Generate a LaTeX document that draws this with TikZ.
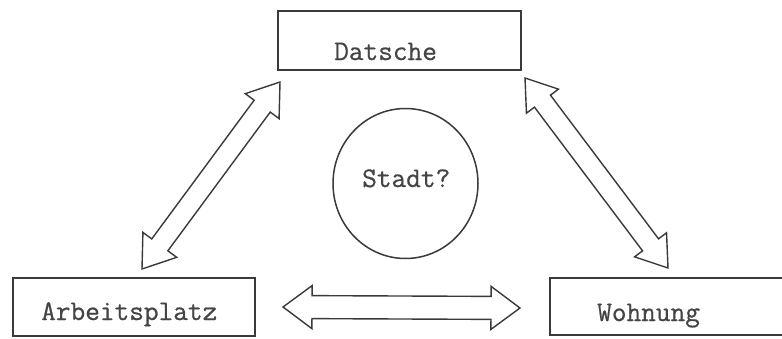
\documentclass[tikz,border=0pt]{standalone}
\usepackage{fontspec}
\usetikzlibrary{calc,shapes.geometric}
\newfontfamily\typer[FakeBold=0.6,BoldFont={Latin Modern Mono}]{Latin Modern Mono}
\definecolor{ink}{HTML}{3A3A3A}
\definecolor{typeink}{HTML}{444444}
\tikzset{
  box/.style={draw=ink, line width=1.5pt, rectangle, inner sep=0pt},
  ring/.style={draw=ink, line width=1.5pt, ellipse, inner sep=0pt},
  lbl/.style={anchor=base west, inner sep=0pt, text=typeink,
    font=\typer\fontsize{28.5}{28.5}\selectfont\bfseries},
  arr/.style={draw=ink, line width=1.4pt, line join=miter, fill=white}
}
% hollow double arrow between two named coordinates
% #1 tip A, #2 tip B, #3 head length, #4 head half width, #5 shaft half width
\newcommand{\HollowDblArrow}[5]{%
  \coordinate (#1-hb) at ($(#1)!#3!(#2)$);
  \coordinate (#2-hb) at ($(#2)!#3!(#1)$);
  \draw[arr] (#1)
    -- ($(#1-hb)!#4!90:(#2)$) -- ($(#1-hb)!#5!90:(#2)$)
    -- ($(#2-hb)!#5!-90:(#1)$) -- ($(#2-hb)!#4!-90:(#1)$)
    -- (#2)
    -- ($(#2-hb)!#4!90:(#1)$) -- ($(#2-hb)!#5!90:(#1)$)
    -- ($(#1-hb)!#5!-90:(#2)$) -- ($(#1-hb)!#4!-90:(#2)$)
    -- cycle;}
\begin{document}
\begin{tikzpicture}[x=1pt,y=-1pt]
\useasboundingbox (0,0) rectangle (782,338);
\clip (0,0) rectangle (782,338);
\fill[white] (0,0) rectangle (782,338);

% boxes
\node[box, minimum width=243pt, minimum height=59pt] (datsche) at (399.5,40.5) {};
\node[box, minimum width=242pt, minimum height=58pt] (arbeit) at (134,307) {};
\node[box, minimum width=250pt, minimum height=57pt] (wohnung) at (675,306.5) {};
\node[ring, minimum width=145pt, minimum height=150pt] (stadt) at (405.5,183.5) {};

% texts
\node[lbl] (tdatsche) at (334,60) {Datsche};
\node[lbl] (tarbeit) at (41,320) {Arbeitsplatz};
\node[lbl] (twohnung) at (597,321) {Wohnung};
\node[lbl] (tstadt) at (362,187) {Stadt?};

% arrow tips
\coordinate (la) at (280,82);
\coordinate (lb) at (142,269);
\coordinate (ra) at (525,78);
\coordinate (rb) at (668,268);
\coordinate (ha) at (283,307);
\coordinate (hb) at (520,308);

\HollowDblArrow{la}{lb}{30pt}{21pt}{10pt}
\HollowDblArrow{ra}{rb}{29pt}{20pt}{10pt}
\HollowDblArrow{ha}{hb}{29pt}{21.5pt}{11.5pt}
\end{tikzpicture}
\end{document}
